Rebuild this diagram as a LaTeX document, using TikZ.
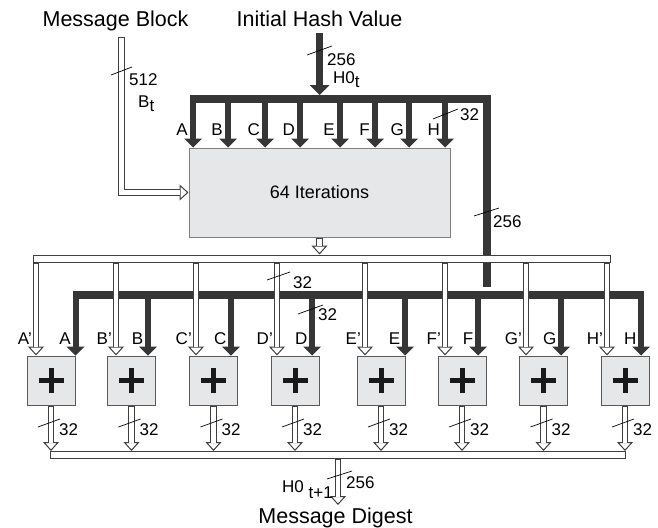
\documentclass[tikz,border=0pt]{standalone}
\usepackage{fontspec}
\setmainfont{Liberation Sans}
\usetikzlibrary{arrows.meta,calc}
\definecolor{dk}{HTML}{363636}
\definecolor{bx}{HTML}{E6E7E8}
\definecolor{hg}{HTML}{404040}
\newcommand\mysub[2][5pt]{\raisebox{-#1}{#2}}
\begin{document}
\begin{tikzpicture}[x=1pt,y=-1pt,
  dark/.style={draw=dk, line width=6pt, -{Triangle[width=18pt,length=9pt,line width=0pt]}},
  hollow/.style={draw=hg, line width=6.4pt, -{Triangle[width=16pt,length=9pt,line width=1pt,fill=white]},
    postaction={draw=white, line width=4.4pt, -, shorten >=8.2pt, shorten <=1pt}},
  bus/.style={draw=dk, line width=8pt},
  hbus/.style={draw=hg, fill=white, line width=1pt, inner sep=0pt, minimum height=7pt},
  itbox/.style={draw=black!50, fill=bx, line width=1pt, inner sep=0pt, minimum width=261pt, minimum height=89pt, font=\fontsize{18}{20}\selectfont},
  adder/.style={draw=black!65, fill=bx, line width=1pt, inner sep=0pt, minimum width=48pt, minimum height=49pt,
    path picture={\draw[line width=5pt, black!90]
      ([xshift=-12.5pt]path picture bounding box.center) -- ([xshift=12.5pt]path picture bounding box.center)
      ([yshift=-12.5pt]path picture bounding box.center) -- ([yshift=12.5pt]path picture bounding box.center);}},
  ttl/.style={font=\fontsize{21.5}{24}\selectfont, inner sep=0pt},
  lbl/.style={font=\fontsize{17}{19}\selectfont, inner sep=0pt},
  tick/.style={draw=black, line width=0.7pt}]
\useasboundingbox (0,0) rectangle (658,527);

% titles
\node[ttl, anchor=base] (tmb) at (115.5,27) {Message Block};
\node[ttl, anchor=base] (tihv) at (319.5,27) {Initial Hash Value};
\node[ttl, anchor=base] (tmd) at (335.5,523) {Message Digest};

% iteration box
\node[itbox] (iter) at (319.5,192.5) {64 Iterations};

% message block input
\coordinate (mb) at (121.5,37);
\draw[hollow] (mb) |- (iter.west);
\draw[tick] (111,75) -- (132,67);
\node[lbl, anchor=base west] (l512) at (129,85) {512};
\node[lbl, anchor=base west] (lbt) at (138,107) {B\mysub[4pt]{t}};

% initial hash input
\coordinate (hv) at (319.5,33);
\coordinate (hvend) at (319.5,95);
\draw[draw=dk, line width=7pt, -{Triangle[width=20pt,length=10pt,line width=0pt]}] (hv) -- (hvend);
\draw[tick] (307,55) -- (332,46);
\node[lbl, anchor=base west] (l256a) at (327,65) {256};
\node[lbl, anchor=base west] (lh0t) at (333,83) {H0\mysub{t}};

% top dark bus
\coordinate (tb1) at (190,99);
\coordinate (tb2) at (491,99);
\coordinate (tv1) at (487,95);
\coordinate (tv2) at (487,287);
\draw[bus] (tb1) -- (tb2);
\draw[bus] (tv1) -- (tv2);
\foreach \x/\L in {193/A,228/B,265/C,300/D,340/E,375/F,409/G,445/H}{
  \coordinate (ti\L) at (\x,95);
  \draw[dark] (ti\L) -- (ti\L |- iter.north);
  \node[lbl, anchor=base east] (tl\L) at (\x-5,135) {\L};
}
\draw[tick] (433,119) -- (458,109);
\node[lbl, anchor=base west] (l32t) at (460,120) {32};
\draw[tick] (474,216) -- (499,208);
\node[lbl, anchor=base west] (l256b) at (493,227) {256};

% hollow bus below iterations
\node[hbus, minimum width=577pt] (hbus) at (321.5,258.5) {};
\draw[hollow] (iter.south) -- (iter.south |- hbus.north);

% second dark bus
\coordinate (db1) at (72.5,295);
\coordinate (db2) at (644,295);
\draw[bus] (db1) -- (db2);

% adders
\foreach \n/\cx/\hx/\dx/\L in {1/51/36/75.5/A, 2/131.5/116/148/B, 3/213.5/196/231/C, 4/295/277/312/D,
    5/381/365/405/E, 6/462/445/478/F, 7/543.5/526/561/G, 8/625/607/641/H}{
  \node[adder] (add\n) at (\cx,380.5) {};
  \draw[hollow] (hbus.south -| \hx,0) -- (\hx,0 |- add\n.north);
  \draw[dark] (\dx,295) -- (\dx,0 |- add\n.north);
  \node[lbl, anchor=base east] (lp\n) at (\hx-4,344) {\L’};
  \node[lbl, anchor=base east] (lq\n) at (\dx-4.5,344) {\L};
  \draw[hollow] (add\n.south) -- (add\n.south |- 0,451);
  \draw[tick] (\cx-13,427) -- (\cx+9,419);
  \node[lbl, anchor=base west] (lo\n) at (\cx+8,435) {32};
}
% output bus
\node[hbus, minimum width=575pt] (obus) at (337.5,454.5) {};

\draw[tick] (267,280) -- (290,272);
\node[lbl, anchor=base west] (l32a) at (293,288) {32};
\draw[tick] (298,314) -- (323,305);
\node[lbl, anchor=base west] (l32b) at (318,320) {32};

% final output
\coordinate (mdtip) at (338,505);
\draw[hollow] (obus.south -| mdtip) -- (mdtip);
\draw[tick] (327,479) -- (352,471);
\node[lbl, anchor=base west] (l256c) at (346,488) {256};
\node[lbl, anchor=base west] (lh01) at (282,492) {H0 \mysub[6pt]{t+1}};
\end{tikzpicture}
\end{document}
